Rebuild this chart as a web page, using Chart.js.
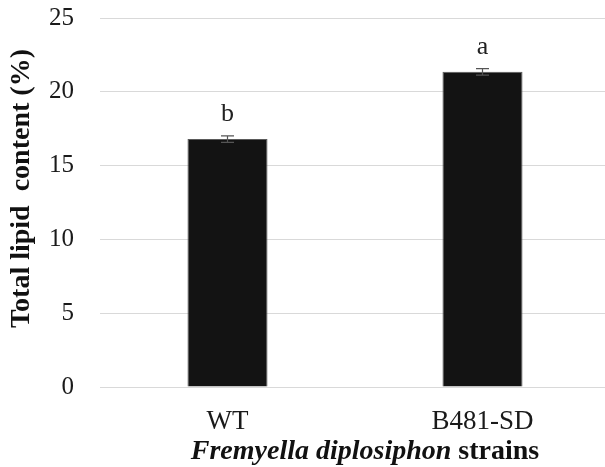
<!DOCTYPE html>
<html>
<head>
<meta charset="utf-8">
<script src="https://cdn.jsdelivr.net/npm/chart.js@4.4.0/dist/chart.umd.min.js"></script>
<style>
  html, body { margin: 0; padding: 0; background: #fff; overflow: hidden; }
  #wrap { width: 612px; height: 467px; position: relative; }
</style>
</head>
<body>
<div id="wrap"><canvas id="c"></canvas></div>
<script>
const categories = ['WT', 'B481-SD'];
const lipidValues = [16.8, 21.35];
const errorValues = [0.22, 0.22];
const letters = ['b', 'a'];
const yTicks = [0, 5, 10, 15, 20, 25];
const yTitle = 'Total lipid  content (%)';
const xTitleItalic = 'Fremyella diplosiphon';
const xTitlePlain = 'strains';

const SERIF = '"Liberation Serif", "Times New Roman", serif';

const errorPlugin = {
  id: 'errorBars',
  afterDatasetsDraw(chart) {
    const ctx = chart.ctx;
    const meta = chart.getDatasetMeta(0);
    const ys = chart.scales.y;
    ctx.save();
    meta.data.forEach((el, i) => {
      const v = lipidValues[i], e = errorValues[i];
      const yT = ys.getPixelForValue(v + e);
      const yB = ys.getPixelForValue(v - e);
      const x = el.x;
      ctx.strokeStyle = '#555';
      ctx.lineWidth = 1.2;
      ctx.beginPath();
      ctx.moveTo(x, yT); ctx.lineTo(x, yB);
      ctx.moveTo(x - 6.5, yT); ctx.lineTo(x + 6.5, yT);
      ctx.moveTo(x - 6.5, yB); ctx.lineTo(x + 6.5, yB);
      ctx.stroke();
      ctx.fillStyle = '#222';
      ctx.font = '26px ' + SERIF;
      ctx.textAlign = 'center';
      ctx.textBaseline = 'alphabetic';
      ctx.fillText(letters[i], x, yT - 15);
    });
    ctx.restore();
  }
};

const xTitlePlugin = {
  id: 'xTitle',
  afterDraw(chart) {
    const ctx = chart.ctx;
    ctx.save();
    const fi = 'italic bold 28px ' + SERIF;
    const fb = 'bold 28px ' + SERIF;
    ctx.font = fi;
    const w1 = ctx.measureText(xTitleItalic + ' ').width;
    ctx.font = fb;
    const w2 = ctx.measureText(xTitlePlain).width;
    const total = w1 + w2;
    const cx = 365, base = 459;
    let x = cx - total / 2;
    ctx.fillStyle = '#111';
    ctx.textAlign = 'left';
    ctx.textBaseline = 'alphabetic';
    ctx.font = fi;
    ctx.fillText(xTitleItalic + ' ', x, base);
    ctx.font = fb;
    ctx.fillText(xTitlePlain, x + w1, base);
    ctx.restore();
  }
};

new Chart(document.getElementById('c'), {
  type: 'bar',
  data: {
    labels: categories,
    datasets: [{
      data: lipidValues,
      backgroundColor: '#131313',
      borderColor: '#5a5a5a',
      borderWidth: 1,
      categoryPercentage: 1,
      barPercentage: 0.314
    }]
  },
  options: {
    responsive: true,
    maintainAspectRatio: false,
    animation: false,
    devicePixelRatio: 1,
    layout: { padding: { top: 18, right: 2, left: 0, bottom: 0 } },
    plugins: { legend: { display: false }, tooltip: { enabled: false } },
    scales: {
      x: {
        grid: { display: false },
        border: { display: false },
        ticks: {
          color: '#1a1a1a',
          font: { family: SERIF, size: 27 },
          padding: 11
        },
        afterFit(s) { s.height = 80; s.paddingLeft = 0; s.paddingRight = 0; }
      },
      y: {
        min: 0, max: 25,
        afterBuildTicks(s) { s.ticks = yTicks.map(v => ({ value: v })); },
        grid: { color: '#d9d9d9', lineWidth: 1, drawTicks: false },
        border: { display: false },
        ticks: {
          color: '#1a1a1a',
          font: { family: SERIF, size: 25 },
          padding: 26
        },
        title: {
          display: true,
          text: '\u00a0\u00a0\u00a0\u00a0' + yTitle,
          color: '#111',
          font: { family: SERIF, size: 28, weight: 'bold' },
          padding: { top: 5, bottom: 0 }
        },
        afterFit(s) { s.width = 100; s.paddingTop = 0; s.paddingBottom = 0; }
      }
    }
  },
  plugins: [errorPlugin, xTitlePlugin]
});
</script>
</body>
</html>
